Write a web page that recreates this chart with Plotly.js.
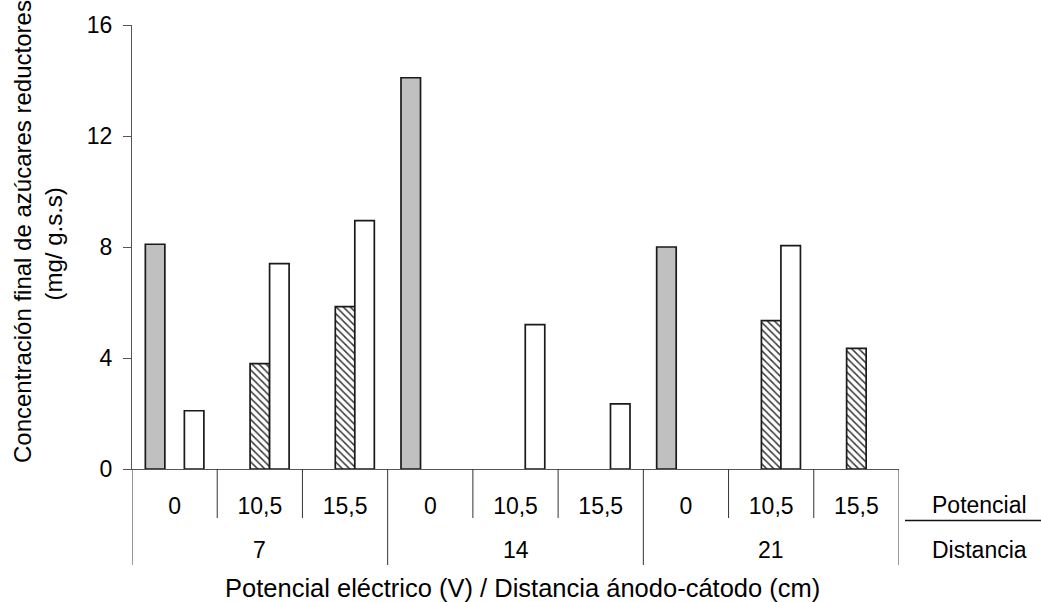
<!DOCTYPE html>
<html>
<head>
<meta charset="utf-8">
<script src="https://cdn.plot.ly/plotly-3.0.1.min.js"></script>
<style>html,body{margin:0;padding:0;background:#fff;}#chart{width:1041px;height:602px;}</style>
</head>
<body>
<div id="chart"></div>
<script>
// Data
const distances = ['7', '14', '21'];
const potentials = ['0', '10,5', '15,5'];
// series values for each (distance, potential) pair, in order
const seriesGray    = [8.1, null, null, 14.1, null, null, 8.0, null, null];
const seriesHatched = [null, 3.8, 5.85, null, null, null, null, 5.35, 4.35];
const seriesWhite   = [2.1, 7.4, 8.95, null, 5.2, 2.35, null, 8.05, null];
const yTicks = [0, 4, 8, 12, 16];

const FONT = 'Liberation Sans, Arial, sans-serif';
const FS = 23;

// build category keys
const cats = [];
const catPot = [];
distances.forEach(d => potentials.forEach(p => { cats.push(d + ' cm / ' + p + ' V'); catPot.push(p); }));

const lineStyle = {color: '#1a1a1a', width: 1.7};
const traces = [
  {type: 'bar', x: cats, y: seriesGray, name: 'gris',
   marker: {color: '#c0c0c0', line: lineStyle}, hoverinfo: 'y'},
  {type: 'bar', x: cats, y: seriesHatched, name: 'rayado',
   marker: {color: '#ffffff', line: lineStyle,
            pattern: {shape: '\\', fgcolor: '#3a3a3a', bgcolor: '#ffffff', size: 5, solidity: 0.3, fillmode: 'replace'}}, hoverinfo: 'y'},
  {type: 'bar', x: cats, y: seriesWhite, name: 'blanco',
   marker: {color: '#ffffff', line: lineStyle}, hoverinfo: 'y'}
];

const plotL = 132, plotW = 767, plotT = 25, plotH = 444;
const px2py = y => (plotT + plotH - y) / plotH;   // pixel y -> paper y
const px2px = x => (x - plotL) / plotW;            // pixel x -> paper x

const shapes = [];
const sepColor = '#333';
// short separators between potentials, long between distances
for (let i = 0; i <= cats.length; i++) {
  const xb = i - 0.5;
  const isLong = (i % potentials.length === 0);
  shapes.push({type: 'line', xref: 'x', yref: 'paper', x0: xb, x1: xb,
               y0: 0, y1: px2py(isLong ? 565 : 518),
               line: {color: sepColor, width: 1}});
}
// divider line between "Potencial" and "Distancia"
shapes.push({type: 'line', xref: 'paper', yref: 'paper', x0: px2px(905), x1: px2px(1041),
             y0: px2py(520.5), y1: px2py(520.5), line: {color: '#111', width: 1.5}});

const annotations = [];
distances.forEach((d, k) => {
  annotations.push({xref: 'x', yref: 'paper', x: k * potentials.length + 1, y: px2py(550),
                    text: d, showarrow: false, xanchor: 'center', yanchor: 'middle',
                    font: {family: FONT, size: FS, color: '#000'}});
});
annotations.push({xref: 'paper', yref: 'paper', x: px2px(930), y: px2py(505), text: 'Potencial',
                  showarrow: false, xanchor: 'left', yanchor: 'middle', font: {family: FONT, size: FS, color: '#000'}});
annotations.push({xref: 'paper', yref: 'paper', x: px2px(930), y: px2py(550), text: 'Distancia',
                  showarrow: false, xanchor: 'left', yanchor: 'middle', font: {family: FONT, size: FS, color: '#000'}});
annotations.push({xref: 'paper', yref: 'paper', x: px2px(522), y: px2py(588),
                  text: 'Potencial eléctrico (V) / Distancia ánodo-cátodo (cm)',
                  showarrow: false, xanchor: 'center', yanchor: 'middle', font: {family: FONT, size: 25.5, color: '#000'}});
annotations.push({xref: 'paper', yref: 'paper', x: px2px(22), y: px2py(232),
                  text: 'Concentración final de azúcares reductores', textangle: -90,
                  showarrow: false, xanchor: 'center', yanchor: 'middle', font: {family: FONT, size: 24, color: '#000'}});
annotations.push({xref: 'paper', yref: 'paper', x: px2px(53), y: px2py(244.5),
                  text: '(mg/ g.s.s)', textangle: -90,
                  showarrow: false, xanchor: 'center', yanchor: 'middle', font: {family: FONT, size: 24, color: '#000'}});

const layout = {
  width: 1041, height: 602,
  margin: {l: plotL, r: 1041 - plotL - plotW, t: plotT, b: 602 - plotT - plotH, pad: 0},
  paper_bgcolor: '#fff', plot_bgcolor: '#fff',
  showlegend: false,
  barmode: 'group', bargap: 0.313, bargroupgap: 0,
  font: {family: FONT, size: FS, color: '#000'},
  xaxis: {type: 'category', categoryorder: 'array', categoryarray: cats,
          range: [-0.5, cats.length - 0.5], tickmode: 'array', tickvals: cats, ticktext: catPot,
          ticks: '', showline: true, linecolor: '#555', linewidth: 1, showgrid: false, zeroline: false,
          tickfont: {family: FONT, size: FS, color: '#000'}, ticklabelstandoff: 16, fixedrange: true},
  yaxis: {range: [0, 16], tickmode: 'array', tickvals: yTicks, ticktext: yTicks.map(String),
          ticks: 'outside', ticklen: 8, tickcolor: '#555', tickwidth: 1,
          showline: true, linecolor: '#555', linewidth: 1, showgrid: false, zeroline: false,
          tickfont: {family: FONT, size: FS, color: '#000'}, ticklabelstandoff: 6, fixedrange: true},
  shapes: shapes,
  annotations: annotations
};

Plotly.newPlot('chart', traces, layout, {staticPlot: true, displayModeBar: false});
</script>
</body>
</html>
